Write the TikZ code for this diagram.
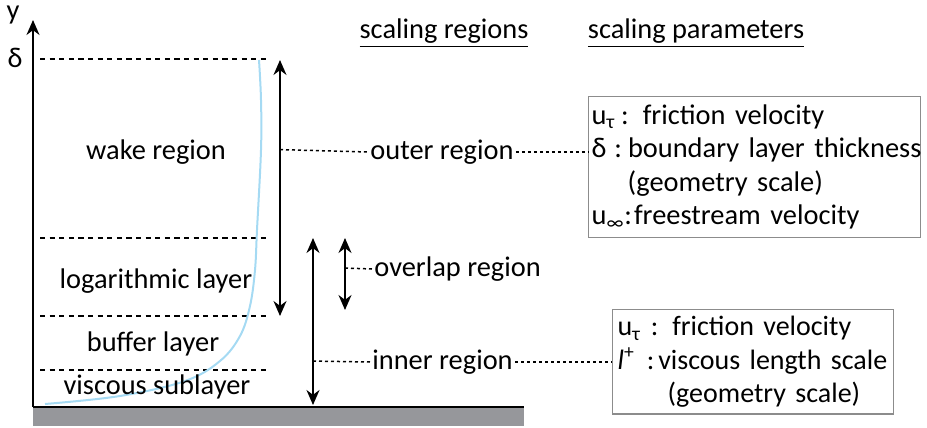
\documentclass[tikz,border=0pt]{standalone}
\usepackage{fontspec}
\setmainfont{Carlito}
\usetikzlibrary{positioning}
\usetikzlibrary{arrows.meta}

\definecolor{wallgray}{RGB}{150,151,155}
\definecolor{profileblue}{RGB}{165,218,243}
\hyphenpenalty=10000

\tikzset{
    layerline/.style={dash pattern=on 2.6pt off 2.2pt, line width=0.75pt},
    link/.style={dash pattern=on 1.5pt off 1.5pt, line width=0.75pt},
    span/.style={{Stealth[length=7.5pt, width=6.5pt]}-{Stealth[length=7.5pt, width=6.5pt]}, line width=0.9pt},
    regionname/.style={anchor=west, inner sep=1pt},
    parambox/.style={draw=black!45, line width=0.6pt, anchor=north west, align=left}
}

\begin{document}
\begin{tikzpicture}[x=0.5pt, y=-0.5pt, font=\fontsize{14.2}{16.7}\selectfont]
    \useasboundingbox (0,0) rectangle (927,428);

    % wall and y axis
    \fill[wallgray] (33,408) rectangle (524,426);
    \coordinate (origin) at (33,407);
    \coordinate (wallend) at (524,407);
    \coordinate (ytop) at (33,20);
    \draw[line width=1pt] (origin) -- (wallend);
    \draw[-{Stealth[length=7.5pt, width=6.5pt]}, line width=1pt] (origin) -- (ytop);
    \node (ylabel) at (13,15) {y};
    \node (deltalabel) at (15,58) {δ};

    % layer borders
    \draw[layerline] (40,59) -- (268,59);
    \draw[layerline] (40,238) -- (268,238);
    \draw[layerline] (40,316) -- (268,316);
    \draw[layerline] (40,370) -- (268,370);

    % mean velocity profile
    \draw[profileblue, line width=1pt] plot[smooth, tension=0.6] coordinates {
        (45,404) (120,396) (185,381) (220,361) (240,336) (250,306)
        (255,270) (257,230) (261,150) (261,100) (259,60)};

    \node (wake) at (156,152) {wake region};
    \node (loglayer) at (156,281) {logarithmic layer};
    \node (buffer) at (153,344) {buffer layer};
    \node (viscous) at (157,387) {viscous sublayer};

    % extent of the scaling regions
    \coordinate (outertop) at (280,60);
    \coordinate (outerbot) at (280,316);
    \draw[span] (outertop) -- (outerbot) coordinate[pos=0.35] (outermid);
    \coordinate (innertop) at (313,238);
    \coordinate (innerbot) at (313,405);
    \draw[span] (innertop) -- (innerbot) coordinate[pos=0.737] (innermid);
    \coordinate (overlaptop) at (345,238);
    \coordinate (overlapbot) at (345,310);
    \draw[span] (overlaptop) -- (overlapbot) coordinate[pos=0.417] (overlapmid);

    \node (regionhead) at (444,33) {\underline{scaling regions}};
    \node (paramhead) at (696,33) {\underline{scaling parameters}};

    \node[regionname] (outer) at (368,152) {outer region};
    \node[regionname] (overlap) at (372,269) {overlap region};
    \node[regionname] (inner) at (370,362) {inner region};

    \node
    [
        parambox,
        inner xsep=1.5pt,
        text width=163pt,
        minimum height=70.5pt
    ] (outerbox) at (588,96) {u\textsubscript{τ}\hspace{3pt}:\hspace{7pt}friction velocity\\
        \mbox{δ\hspace{4pt}:\hspace{3pt}boundary layer thickness}\\
        \hspace*{18pt}(geometry scale)\\
        u\textsubscript{∞}:\hspace{1pt}freestream velocity};
    \node
    [
        parambox,
        font=\fontsize{14}{16.7}\selectfont,
        inner xsep=2.5pt,
        text width=135.5pt,
        minimum height=52pt
    ] (innerbox) at (612,309) {u\textsubscript{τ}\hspace{5pt}:\hspace{7pt}friction velocity\\
        \textit{l}\textsuperscript{+}\hspace{6pt}:\hspace{2pt}viscous length scale\\
        \hspace*{25pt}(geometry scale)};

    \draw[link] (outermid) -- (outer.west);
    \draw[link] (outer.east) -- (outer.east -| outerbox.west);
    \draw[link] (overlapmid) -- (overlap.west);
    \draw[link] (innermid) -- (inner.west);
    \draw[link] (inner.east) -- (inner.east -| innerbox.west);
\end{tikzpicture}
\end{document}
